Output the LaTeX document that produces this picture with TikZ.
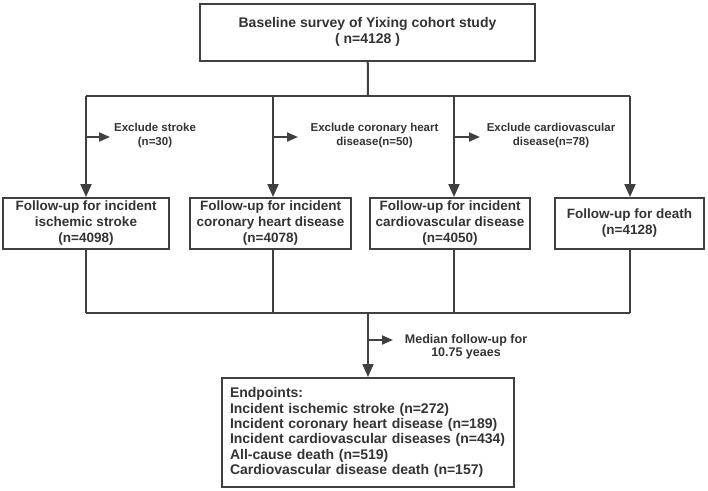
\documentclass[tikz,border=0pt]{standalone}
\usepackage{fontspec}
\setmainfont{Liberation Sans}
\usetikzlibrary{arrows.meta,positioning,calc}
\definecolor{LineGray}{RGB}{64,64,64}
\definecolor{TextGray}{RGB}{51,51,51}
\tikzset{
  stagebox/.style={draw=LineGray,line width=2pt,fill=white,text=TextGray,
    font=\bfseries\fontsize{13.5}{16}\selectfont,align=center,inner sep=0pt},
  note/.style={text=TextGray,font=\bfseries\fontsize{11.5}{14}\selectfont,align=center,inner sep=0pt},
  link/.style={LineGray,line width=2pt},
  arrow/.style={link,-{Triangle[length=13pt,width=11pt]}},
  sidearrow/.style={link,-{Triangle[length=11pt,width=9pt]}}
}

\begin{document}
\begin{tikzpicture}[x=1pt,y=-1pt]
  \useasboundingbox (0,0) rectangle (708,490);
  % baseline
  \node[stagebox,minimum width=335,minimum height=57,font=\bfseries\fontsize{14}{16}\selectfont]
    (base) at (367.5,32) {Baseline survey of Yixing cohort study\\( n=4128 )};
  % follow-up boxes
  \node[stagebox,minimum width=166,minimum height=51] (fustroke) at (86,223.5)
    {Follow-up for incident\\ischemic stroke\\(n=4098)};
  \node[stagebox,minimum width=161,minimum height=51] (fuchd) at (270.5,223.5)
    {Follow-up for incident\\coronary heart disease\\(n=4078)};
  \node[stagebox,minimum width=160,minimum height=51] (fucvd) at (450,223.5)
    {Follow-up for incident\\cardiovascular disease\\(n=4050)};
  \node[stagebox,minimum width=149,minimum height=51] (fudeath) at (629.5,223.5)
    {Follow-up for death\\(n=4128)};
  % endpoints
  \node[stagebox,minimum width=292,minimum height=109,text width=276,align=left,
    font=\bfseries\fontsize{14}{15.3}\selectfont] (ends) at (368,432.5)
    {Endpoints:\\Incident ischemic stroke (n=272)\\Incident coronary heart disease (n=189)\\
     Incident cardiovascular diseases (n=434)\\All-cause death (n=519)\\
     Cardiovascular disease death (n=157)};

  % branch points
  \coordinate (split) at (368,96);
  \coordinate (b1) at (86,96);
  \coordinate (b2) at (273,96);
  \coordinate (b3) at (454,96);
  \coordinate (b4) at (630,96);
  \coordinate (m1) at (86,313);
  \coordinate (m2) at (273,313);
  \coordinate (m3) at (454,313);
  \coordinate (m4) at (630,313);
  \coordinate (merge) at (368,313);

  \draw[link] (base) -- (split);
  \draw[link] (b1) -- (b4);
  \draw[arrow] (b1) -- (b1 |- fustroke.north);
  \draw[arrow] (b2) -- (b2 |- fuchd.north);
  \draw[arrow] (b3) -- (b3 |- fucvd.north);
  \draw[arrow] (b4) -- (b4 |- fudeath.north);

  % exclusions
  \coordinate (x1) at (86,137);
  \coordinate (x2) at (273,137);
  \coordinate (x3) at (454,137);
  \node[note] (ex1) at (155,136) {Exclude stroke\\(n=30)};
  \node[note] (ex2) at (374.5,136) {Exclude coronary heart\\disease(n=50)};
  \node[note] (ex3) at (551,136) {Exclude cardiovascular\\disease(n=78)};
  \draw[sidearrow] (x1) -- ++(24,0);
  \draw[sidearrow] (x2) -- ++(25,0);
  \draw[sidearrow] (x3) -- ++(26,0);

  % merge
  \draw[link] (fustroke.south -| m1) -- (m1);
  \draw[link] (fuchd.south -| m2) -- (m2);
  \draw[link] (fucvd.south -| m3) -- (m3);
  \draw[link] (fudeath.south -| m4) -- (m4);
  \draw[link] (m1) -- (m4);
  \draw[arrow] (merge) -- (ends);
  \coordinate (med) at (368,340);
  \node[note,font=\bfseries\fontsize{12.5}{13.5}\selectfont] (medtext) at (466,347)
    {Median follow-up for\\10.75 yeaes};
  \draw[sidearrow] (med) -- ++(25,0);
\end{tikzpicture}
\end{document}
